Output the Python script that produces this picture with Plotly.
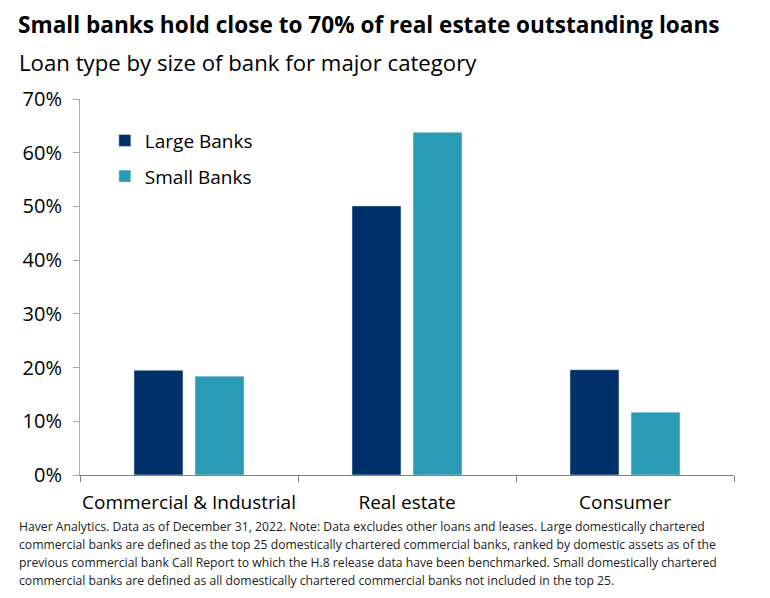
import plotly.graph_objects as go

categories = ["Commercial & Industrial", "Real estate", "Consumer"]
large_banks = [19.5, 50.1, 19.6]
small_banks = [18.4, 63.8, 11.7]
y_ticks = [0, 10, 20, 30, 40, 50, 60, 70]
y_tick_labels = ["0%", "10%", "20%", "30%", "40%", "50%", "60%", "70%"]

FONT = "Open Sans"
note_lines = [
    "Haver Analytics. Data as of December 31, 2022. Note: Data excludes other loans and leases. Large domestically chartered",
    "commercial banks are defined as the top 25 domestically chartered commercial banks, ranked by domestic assets as of the",
    "previous commercial bank Call Report to which the H.8 release data have been benchmarked. Small domestically chartered",
    "commercial banks are defined as all domestically chartered commercial banks not included in the top 25.",
]

fig = go.Figure()
fig.add_trace(go.Bar(x=categories, y=large_banks, name="Large Banks", marker_color="#00306a",
                     legendgroup="large"))
fig.add_trace(go.Bar(x=categories, y=small_banks, name="Small Banks", marker_color="#2a9bb4",
                     legendgroup="small"))

# page body has an 8px margin, so the figure is drawn 8px smaller
fig.update_layout(
    width=762, height=590,
    margin=dict(l=72, r=36, t=91, b=123),
    paper_bgcolor="white", plot_bgcolor="white",
    font=dict(family=FONT, color="black", size=19),
    barmode="group", bargap=0.44, bargroupgap=0.197,
    showlegend=True,
    legend=dict(x=0.038, y=0.94, xanchor="left", yanchor="top",
                font=dict(size=19), itemwidth=30, tracegroupgap=8,
                bgcolor="rgba(0,0,0,0)"),
)
fig.update_yaxes(range=[0, 70], tickvals=y_ticks, ticktext=y_tick_labels,
                 showgrid=False, zeroline=False, showline=True, linecolor="#aaaaaa",
                 ticks="outside", ticklen=6, tickcolor="#aaaaaa", ticklabelstandoff=7,
                 tickfont=dict(size=20), automargin=False)
fig.update_xaxes(showline=True, linecolor="#808080", ticks="outside", tickson="boundaries",
                 ticklen=6, tickcolor="#808080", showgrid=False, ticklabelstandoff=10,
                 tickangle=0, automargin=False)

fig.add_annotation(xref="paper", yref="paper", x=-0.0963, y=1.197, xanchor="left", yanchor="middle",
                   text="<b>Small banks hold close to 70% of real estate outstanding loans</b>",
                   showarrow=False, font=dict(size=22.6), borderpad=0)
fig.add_annotation(xref="paper", yref="paper", x=-0.0963, y=1.098, xanchor="left", yanchor="middle",
                   text="Loan type by size of bank for major category",
                   showarrow=False, font=dict(size=22.2))
for i, line in enumerate(note_lines):
    fig.add_annotation(xref="paper", yref="paper", x=-0.0963, y=-0.138 - i * 0.0471,
                       xanchor="left", yanchor="middle", text=line, showarrow=False,
                       font=dict(size=12.2, color="#222222"))

fig.write_html("out.html")
